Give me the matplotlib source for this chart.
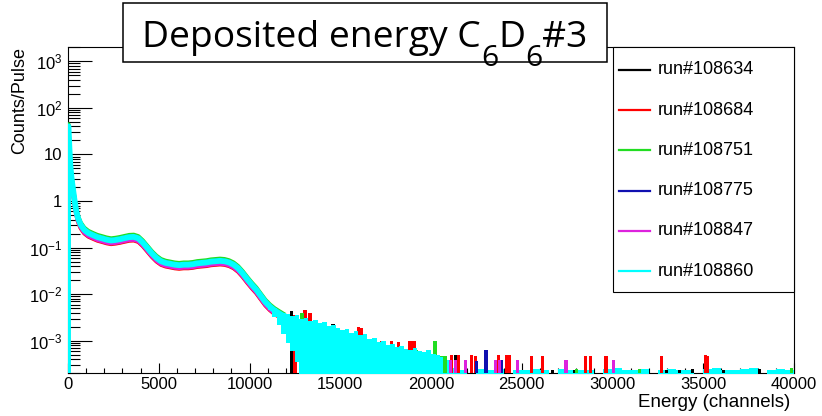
import numpy as np
import matplotlib
matplotlib.use("Agg")
import matplotlib.pyplot as plt
from matplotlib.patches import Rectangle
from matplotlib.lines import Line2D
from matplotlib.ticker import FixedLocator, FuncFormatter, LogLocator, MultipleLocator

plt.rcParams['font.family'] = ['Liberation Sans', 'DejaVu Sans']
plt.rcParams['mathtext.fontset'] = 'custom'
plt.rcParams['mathtext.rm'] = 'Liberation Sans'
plt.rcParams['mathtext.it'] = 'Liberation Sans:italic'
plt.rcParams['mathtext.bf'] = 'Liberation Sans:bold'

W, H = 822, 416

runs = ["run#108634", "run#108684", "run#108751", "run#108775", "run#108847", "run#108860"]
run_colors = ["#000000", "#ff0000", "#22dd22", "#1010b0", "#dd22dd", "#00ffff"]
# relative level of each run against the cyan one
run_scale = [1.04, 0.84, 1.11, 1.02, 0.87, 1.00]

# main part of the spectrum (cyan run), counts/pulse per bin
body_edges = [0, 50, 100, 150, 200, 250, 300, 400, 500, 600, 800, 1000] + list(range(1250, 12001, 250))
body_counts = [40, 14, 6.0, 3.6, 2.5, 1.8, 1.1, 0.62, 0.43, 0.31, 0.24,
               0.205, 0.185, 0.168, 0.158, 0.148, 0.142, 0.146, 0.152, 0.160, 0.168,
               0.170, 0.158, 0.128, 0.098, 0.075, 0.060, 0.051, 0.047, 0.045, 0.043,
               0.042, 0.043, 0.043, 0.044, 0.046, 0.047, 0.048, 0.050, 0.051, 0.052,
               0.051, 0.048, 0.043, 0.036, 0.028, 0.021, 0.016, 0.0125, 0.0092, 0.0068,
               0.0054, 0.0045, 0.0039, 0.0034]

# cyan tail: upper and lower edge of the dense region, then the floor strip
# (1e-6 = empty bin, below the axis)
tail_edges = list(range(11000, 21001, 250)) + list(range(21500, 40001, 500))
tail_top = [0.0056, 0.0050, 0.0044, 0.0040,
            0.0037, 0.0034, 0.0036, 0.0030, 0.0031, 0.0027, 0.0028, 0.0024, 0.0025,
            0.0021, 0.0022, 0.0019, 0.0017, 0.0018, 0.0015, 0.0016, 0.0013, 0.0014, 0.0011,
            0.00115, 0.00092, 0.00098, 0.0008, 0.00084, 0.00072, 0.00078, 0.00068, 0.00064,
            0.0007, 0.0006, 0.00056, 0.00062, 0.00052, 0.0005, 0.00044, 0.00038,
            2.6e-4, 2.4e-4, 1e-6, 2.5e-4, 2.3e-4, 2.5e-4, 1e-6, 2.4e-4, 2.3e-4, 2.5e-4,
            2.4e-4, 1e-6, 2.5e-4, 2.3e-4, 2.4e-4, 2.3e-4, 1e-6, 2.5e-4, 2.6e-4, 2.4e-4,
            2.3e-4, 2.5e-4, 1e-6, 2.4e-4, 2.5e-4, 2.3e-4, 2.4e-4, 1e-6, 2.5e-4, 2.6e-4,
            2.4e-4, 2.3e-4, 2.5e-4, 2.6e-4, 1e-6, 2.4e-4, 2.5e-4, 2.3e-4]
tail_low = [0.0045, 0.0032, 0.0022, 0.0014, 0.0009, 0.0006, 0.00035] + [1e-6] * 71

# isolated tail bins of the other runs: channel, counts/pulse
black_ch = [12320, 14600, 19210, 21330, 26700, 27900, 33000, 33700, 34400, 36100, 38100]
black_val = [4.4e-3, 2.3e-3, 4.6e-4, 5.0e-4, 2.4e-4, 2.4e-4, 2.4e-4, 2.4e-4, 2.5e-4, 2.4e-4, 2.5e-4]
red_ch = [12500, 13060, 13330, 16000, 16180, 16920, 17280, 17830, 18200, 18840, 19070,
          21140, 21510, 22240, 22430, 23720, 24170, 24350, 25550, 26160, 28530, 28800,
          29640, 32710, 35100, 35230]
red_val = [3.6e-3, 4.6e-3, 3.9e-3, 2.0e-3, 1.9e-3, 1.0e-3, 9.7e-4, 9.7e-4, 9.2e-4, 1.0e-3,
           1.0e-3, 5.0e-4, 5.0e-4, 5.0e-4, 4.8e-4, 5.0e-4, 5.0e-4, 5.0e-4, 4.8e-4, 4.8e-4,
           4.8e-4, 4.8e-4, 4.8e-4, 4.8e-4, 5.0e-4, 4.6e-4]
green_ch = [12900, 14160, 15350, 16640, 19210, 20220, 20590, 20770, 28000, 31500, 39870]
green_val = [3.9e-3, 2.8e-4, 1.6e-3, 1.1e-3, 6.4e-4, 9.7e-4, 4.6e-4, 4.6e-4, 2.5e-4, 2.5e-4, 2.6e-4]
blue_ch = [13240, 15800, 22520, 23030, 23900]
blue_val = [5.0e-4, 1.3e-3, 3.7e-4, 6.2e-4, 3.9e-4]
magenta_ch = [13980, 15000, 16550, 17560, 21050, 21330, 21880, 23530, 23770, 24780, 27440, 30080]
magenta_val = [7.5e-4, 2.3e-4, 7.5e-4, 6.4e-4, 3.9e-4, 3.9e-4, 3.9e-4, 3.9e-4, 3.9e-4,
               3.9e-4, 3.9e-4, 3.9e-4]
tail_ch = [black_ch, red_ch, green_ch, blue_ch, magenta_ch]
tail_val = [black_val, red_val, green_val, blue_val, magenta_val]

ymin, ymax = 2e-4, 2e3

fig = plt.figure(figsize=(W / 100, H / 100), dpi=100)
ax = fig.add_axes([68 / W, 1 - 373.3 / H, 726 / W, 326 / H])
ax.set_yscale('log')

centers = 0.5 * (np.array(body_edges[:-1]) + np.array(body_edges[1:]))
for i, (name, c) in enumerate(zip(runs, run_colors)):
    vals = np.array(body_counts) * run_scale[i]
    lw = 4.2 if i == 5 else 3.0
    ax.plot(np.r_[body_edges[0], body_edges[0], centers], np.r_[ymin, vals[0], vals],
            color=c, lw=lw, solid_joinstyle='round', zorder=2 + i)

# tail bins of the other runs: low ones hidden behind the cyan mass, the far ones in front
for i in range(5):
    ch = np.array(tail_ch[i])
    v = np.array(tail_val[i])
    back = ch < 20750
    ax.bar(ch[back], v[back] - ymin, bottom=ymin, width=190, color=run_colors[i], lw=0, zorder=7)

te = np.array(tail_edges)
ax.fill_between(te, np.r_[tail_low, tail_low[-1]], np.r_[tail_top, tail_top[-1]], step='post',
                color=run_colors[5], lw=0, zorder=8)

for i in range(5):
    ch = np.array(tail_ch[i])
    v = np.array(tail_val[i])
    front = ch >= 20750
    ax.bar(ch[front], v[front] - ymin, bottom=ymin, width=170, color=run_colors[i], lw=0, zorder=9)

ax.set_xlim(0, 40000)
ax.set_ylim(ymin, ymax)

ax.xaxis.set_major_locator(MultipleLocator(5000))
ax.xaxis.set_minor_locator(MultipleLocator(1000))
ax.yaxis.set_major_locator(FixedLocator([1e-3, 1e-2, 1e-1, 1, 10, 1e2, 1e3]))
ax.yaxis.set_minor_locator(LogLocator(base=10, subs=np.arange(2, 10), numticks=20))


def yfmt(v, pos):
    e = int(round(np.log10(v)))
    if e == 0:
        return '1'
    if e == 1:
        return '10'
    return r'$10^{%d}$' % e


ax.yaxis.set_major_formatter(FuncFormatter(yfmt))
ax.yaxis.set_minor_formatter(FuncFormatter(lambda v, p: ''))

ax.tick_params(axis='both', which='both', direction='in', width=0.8, labelsize=12,
               top=False, right=False)
ax.tick_params(axis='y', which='major', length=17, pad=4)
ax.tick_params(axis='y', which='minor', length=8.5)
ax.tick_params(axis='x', which='major', length=7, pad=3)
ax.tick_params(axis='x', which='minor', length=3.5)
for s in ax.spines.values():
    s.set_linewidth(0.8)

ax.set_ylabel("Counts/Pulse", fontsize=13, loc='top')
ax.yaxis.set_label_coords(-0.055, 1.0)
ax.set_xlabel("Energy (channels)", fontsize=13.5, loc='right')
ax.xaxis.set_label_coords(0.9945, -0.062)

# legend box flush with the top right corner of the frame
fig.add_artist(Rectangle((613 / W, 1 - 292 / H), 181 / W, 245 / H, transform=fig.transFigure,
                         facecolor='white', edgecolor='black', lw=0.8, zorder=5))
for k, (name, c) in enumerate(zip(runs, run_colors)):
    yy = 1 - (70 + 40.2 * k) / H
    fig.add_artist(Line2D([619 / W, 650 / W], [yy, yy], transform=fig.transFigure,
                          color=c, lw=1.6, zorder=6))
    fig.text(658 / W, yy, name, fontsize=13, va='center', ha='left', zorder=7)

# title box
fig.add_artist(Rectangle((123 / W, 1 - 61.7 / H), 484 / W, 58.7 / H, transform=fig.transFigure,
                         facecolor='white', edgecolor='black', lw=1.1, zorder=5))
r = fig.canvas.get_renderer()
pieces = [("Deposited energy C", 26.8, 47), ("6", 21.5, 66), ("D", 26.8, 47), ("6", 21.5, 66), ("#3", 26.8, 47)]
xpix = 142
for txt, fs, base in pieces:
    t = fig.text(xpix / W, 1 - base / H, txt, fontsize=fs, family=['Open Sans', 'DejaVu Sans'],
                 va='baseline', ha='left', zorder=7)
    xpix = t.get_window_extent(r).x1

fig.savefig("out.png", dpi=100)
